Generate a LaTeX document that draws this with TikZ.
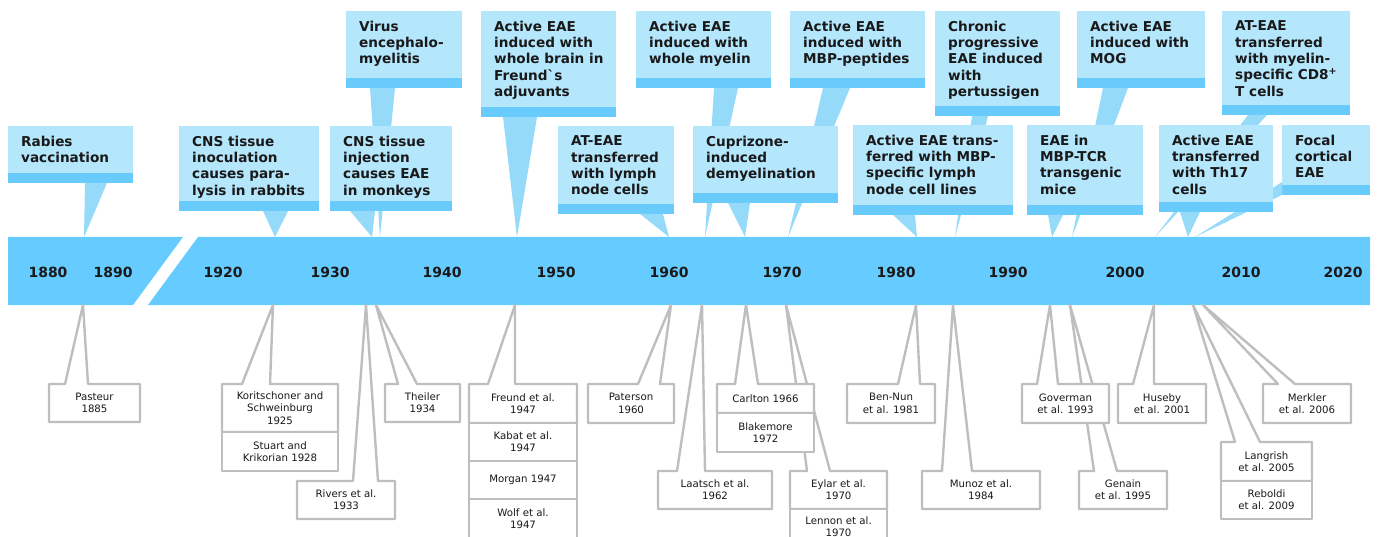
\documentclass[tikz,border=0pt]{standalone}
\usepackage{fontspec}
\setmainfont{DejaVu Sans}
\usetikzlibrary{calc}
\definecolor{barblue}{RGB}{102,204,255}
\definecolor{boxblue}{RGB}{180,230,252}
\definecolor{stripblue}{RGB}{104,203,252}
\definecolor{tipblue}{RGB}{150,218,250}
\definecolor{refgray}{RGB}{190,190,190}
\definecolor{inktext}{RGB}{25,25,25}
\begin{document}
\begin{tikzpicture}[x=1pt,y=-1pt,
    event/.style={fill=boxblue, inner sep=0pt, outer sep=0pt, anchor=north west,
        path picture={\fill[stripblue] ($(path picture bounding box.south west)+(0,-10)$) rectangle (path picture bounding box.south east);}},
    evtext/.style={anchor=north west, inner sep=0pt, xshift=13pt, yshift=-9.5pt, align=left,
        text=inktext, font=\fontsize{13.6}{16.4}\selectfont\bfseries},
    refbox/.style={fill=white, inner sep=0pt, outer sep=0pt, anchor=north west, align=center,
        text=inktext, font=\fontsize{10.2}{12.3}\selectfont},
    refline/.style={draw=refgray, line width=2.4pt, line join=round},
    refstack/.style={refbox, refline},
    year/.style={font=\fontsize{14}{16}\selectfont\bfseries, text=inktext}]
\useasboundingbox (0,0) rectangle (1378,537);
% time bar, broken between 1890 and 1920
\fill[barblue] (8,237) -- (183,237) -- (133,305) -- (8,305) -- cycle;
\fill[barblue] (198,237) -- (1370,237) -- (1370,305) -- (148,305) -- cycle;
\foreach \yr/\x in {1880/48,1890/113,1920/223,1930/330,1940/442,1950/556,1960/669,
    1970/782,1980/896,1990/1008,2000/1125,2010/1241,2020/1343}
    \node[year] (y\yr) at (\x,272) {\yr};
% events, upper row
\foreach \nm/\x/\y/\w/\h/\txt in {
    virus/346/11/116/77/{Virus\\encephalo-\\myelitis},
    brain/481/11/135/106/{Active EAE\\induced with\\whole brain in\\Freund\textasciigrave s\\adjuvants},
    myelin/636/11/135/77/{Active EAE\\induced with\\whole myelin},
    mbp/790/11/135/77/{Active EAE\\induced with\\MBP-peptides},
    chronic/935/11/125/105/{Chronic\\progressive\\EAE induced\\with\\pertussigen},
    mog/1077/11/128/77/{Active EAE\\induced with\\MOG},
    cdeight/1222/11/128/104/{AT-EAE\\transferred\\with myelin-\\specific CD8\textsuperscript{+}\\T cells},
    focal/1282/125/88/70/{Focal\\cortical\\EAE}}{
    \node[event, minimum width=\w, minimum height=\h] (\nm) at (\x,\y) {};
    \node[evtext] (\nm-t) at (\nm.north west) {\txt};
}
\foreach \nm/\lo/\hi/\ax in {virus/24/49/380, brain/22/56/517, myelin/78/102/705,
    mbp/33/60/788, chronic/37/53/955, mog/26/51/1072, cdeight/26/45/1155}{
    \coordinate (\nm-a) at (\ax,237);
    \fill[tipblue] ($(\nm.south west)+(\lo,0)$) -- ($(\nm.south west)+(\hi,0)$) -- (\nm-a) -- cycle;
}
\coordinate (focal-a) at (1195,237);
\fill[tipblue] ($(focal.south west)+(0,-13)$) -- (focal.south west) -- (focal-a) -- cycle;
% events, lower row
\foreach \nm/\x/\y/\w/\h/\txt in {
    rabies/8/126/125/57/{Rabies\\vaccination},
    inoc/179/126/140/85/{CNS tissue\\inoculation\\causes para-\\lysis in rabbits},
    inject/330/126/122/85/{CNS tissue\\injection\\causes EAE\\in monkeys},
    lymph/558/126/116/88/{AT-EAE\\transferred\\with lymph\\node cells},
    cupri/693/126/145/77/{Cuprizone-\\induced\\demyelination},
    mbpline/853/125/160/90/{Active EAE trans-\\ferred with MBP-\\specific lymph\\node cell lines},
    tcr/1027/125/116/90/{EAE in\\MBP-TCR\\transgenic\\mice},
    thseventeen/1159/125/114/87/{Active EAE\\transferred\\with Th17\\cells}}{
    \node[event, minimum width=\w, minimum height=\h] (\nm) at (\x,\y) {};
    \node[evtext] (\nm-t) at (\nm.north west) {\txt};
}
\foreach \nm/\lo/\hi/\ax in {rabies/77/99/84, inoc/84/109/275, inject/20/45/372,
    lymph/82/105/669, cupri/35/57/745, mbpline/40/62/917, tcr/21/36/1052,
    thseventeen/21/41/1188}{
    \coordinate (\nm-a) at (\ax,237);
    \fill[tipblue] ($(\nm.south west)+(\lo,0)$) -- ($(\nm.south west)+(\hi,0)$) -- (\nm-a) -- cycle;
}
% references below the bar
\foreach \nm/\x/\y/\w/\h/\lo/\hi/\ax/\txt in {
    pasteur/49/384/91/38/16/39/83/{Pasteur\\1885},
    korit/222/384/116/48/20/48/273/{Koritschoner and\\Schweinburg\\1925},
    rivers/297/481/98/38/56/81/366/{Rivers et al.\\1933},
    theiler/385/384/75/38/13/32/376/{Theiler\\1934},
    freund/469/384/108/39/19/46/515/{Freund et al.\\1947},
    paterson/588/384/86/39/50/72/671/{Paterson\\1960},
    laatsch/658/471/114/38/19/47/702/{Laatsch et al.\\1962},
    eylar/790/471/97/38/17/40/786/{Eylar et al.\\1970},
    carlton/717/384/97/29/18/41/746/{Carlton 1966},
    bennun/847/384/88/39/51/73/916/{Ben-Nun\\et al. 1981},
    munoz/922/471/118/38/20/50/953/{Munoz et al.\\1984},
    genain/1079/471/88/38/15/38/1070/{Genain\\et al. 1995},
    goverman/1022/384/87/39/15/36/1050/{Goverman\\et al. 1993},
    huseby/1118/384/88/39/15/36/1154/{Huseby\\et al. 2001},
    langrish/1221/442/91/39/14/39/1193/{Langrish\\et al. 2005},
    merkler/1263/384/88/39/15/32/1203/{Merkler\\et al. 2006}}{
    \node[refbox, minimum width=\w, minimum height=\h] (\nm) at (\x,\y) {\txt};
    \coordinate (\nm-a) at (\ax,305);
    \draw[refline] ($(\nm.north west)+(\lo,0)$) -- (\nm-a) -- ($(\nm.north west)+(\hi,0)$)
        -- (\nm.north east) -- (\nm.south east) -- (\nm.south west) -- (\nm.north west) -- cycle;
}
\foreach \nm/\on/\w/\h/\txt in {
    stuart/korit/116/39/{Stuart and\\Krikorian 1928},
    kabat/freund/108/38/{Kabat et al.\\1947},
    morgan/kabat/108/38/{Morgan 1947},
    wolf/morgan/108/40/{Wolf et al.\\1947},
    blake/carlton/97/39/{Blakemore\\1972},
    lennon/eylar/97/35/{Lennon et al.\\1970},
    reboldi/langrish/91/38/{Reboldi\\et al. 2009}}
    \node[refstack, minimum width=\w, minimum height=\h] (\nm) at (\on.south west) {\txt};
\end{tikzpicture}
\end{document}
